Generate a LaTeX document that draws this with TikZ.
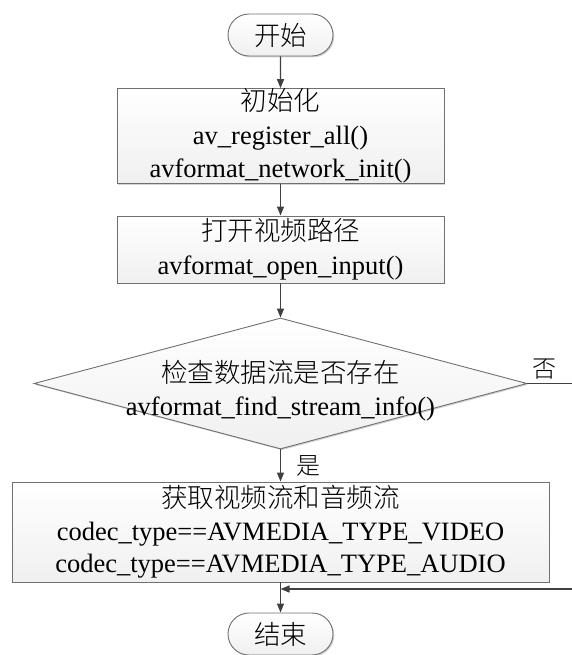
\documentclass[tikz,border=0pt]{standalone}
\usepackage{fontspec}
\setmainfont{Liberation Serif}
\newfontfamily\cjk{Noto Sans CJK SC}[UprightFont=* Light]
\usetikzlibrary{shapes.geometric,shapes.misc,shadows,arrows.meta}
\definecolor{linec}{HTML}{404040}
\definecolor{edgec}{HTML}{707070}
\begin{document}
\begin{tikzpicture}[x=1pt,y=-1pt,
  every node/.style={font=\fontsize{26.5}{33.5}\selectfont, text=black},
  boxbase/.style={draw=edgec, line width=0.9pt, top color=white, bottom color=gray!12,
    drop shadow={shadow xshift=1.3pt,shadow yshift=-1.3pt,opacity=0.35,fill=gray}},
  procbox/.style={boxbase, rectangle, align=center, inner sep=0pt},
  termbox/.style={boxbase, rounded rectangle, minimum width=105pt, minimum height=42pt, inner sep=0pt},
  decbox/.style={boxbase, diamond, minimum width=493pt, minimum height=131pt, inner sep=0pt},
  flow/.style={draw=linec, line width=1.3pt, -{Triangle[length=9pt,width=7pt]}},
  lbl/.style={font=\cjk\fontsize{24}{28}\selectfont}
]
\useasboundingbox (0,0) rectangle (572,655);

\node[termbox] (start) at (280.5,35) {\cjk 开始};
\node[procbox, minimum width=327pt, minimum height=94pt] (init) at (280.5,136)
  {{\cjk 初始化}\\av\_register\_all()\\avformat\_network\_init()};
\node[procbox, minimum width=327pt, minimum height=67pt] (open) at (280.5,249.5)
  {{\cjk 打开视频路径}\\avformat\_open\_input()};
\node[decbox, label={[align=center, yshift=-7pt]center:{{\cjk 检查数据流是否存在}\\avformat\_find\_stream\_info()}}] (check) at (280.5,383.5) {};
\node[procbox, minimum width=537pt, minimum height=100pt, font=\fontsize{26.5}{32.5}\selectfont] (get) at (280.5,532)
  {{\cjk 获取视频流和音频流}\\codec\_type==AVMEDIA\_TYPE\_VIDEO\\codec\_type==AVMEDIA\_TYPE\_AUDIO};
\node[termbox] (end) at (280.5,634) {\cjk 结束};

\coordinate (join) at (280.5,589);
\coordinate (r1) at (600,383.5);
\coordinate (r2) at (600,589);

\draw[flow] (start) -- (init);
\draw[flow] (init) -- (open);
\draw[flow] (open) -- (check);
\draw[flow] (check) -- node[lbl, right, xshift=12.5pt] {是} (get);
\draw[flow] (get) -- (end);
\draw[flow] (check.east) -- node[lbl, above, pos=0.24] {否} (r1) -- (r2) -- (join);
\end{tikzpicture}
\end{document}
